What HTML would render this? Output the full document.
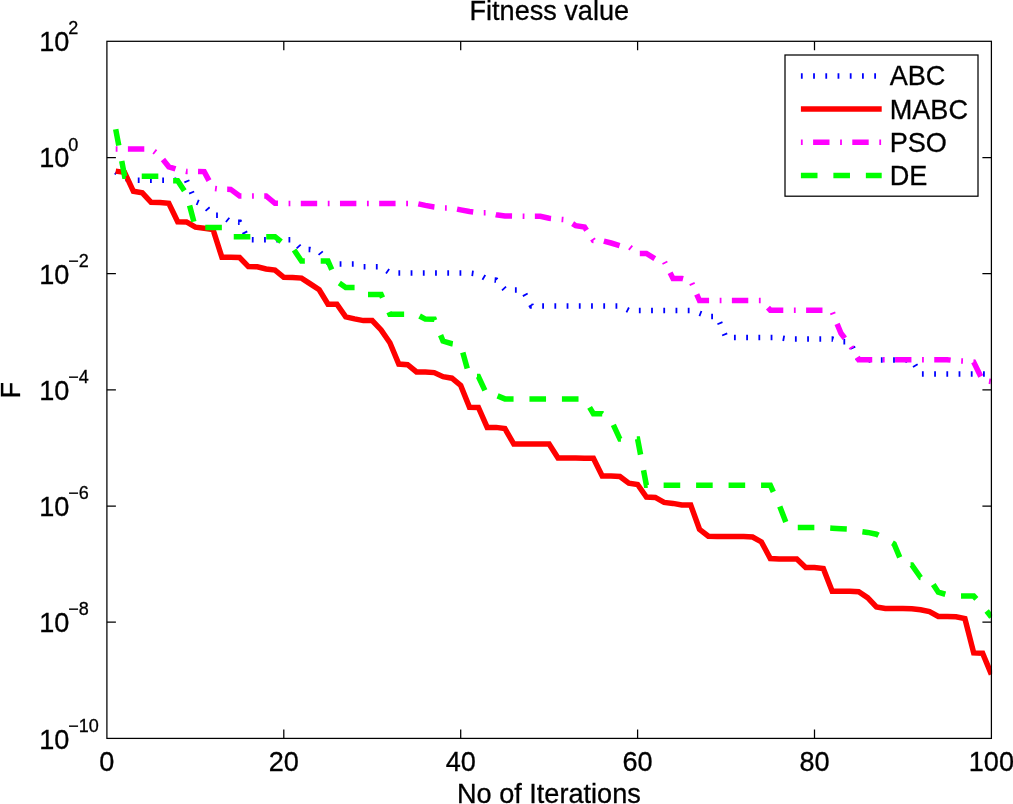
<!DOCTYPE html>
<html lang="en"><head><meta charset="utf-8"><title>Fitness value</title>
<style>html,body{margin:0;padding:0;background:#fff}body{width:1013px;height:804px;overflow:hidden}svg{display:block}</style></head>
<body>
<svg width="1013" height="804" viewBox="0 0 1013 804">
<rect width="1013" height="804" fill="#fff"/>
<defs><clipPath id="c"><rect x="106.4" y="41.3" width="885.7" height="697.1"/></clipPath></defs>
<g clip-path="url(#c)" fill="none" stroke-width="5.5" stroke-linejoin="miter">
<polyline points="115.7,171.7 124.6,178.2 133.4,180.3 142.3,180.3 151.1,180.3 160.0,180.3 168.8,180.3 177.7,180.3 186.5,180.3 195.4,201.5 204.2,205.2 213.0,215.3 221.9,215.3 230.7,222.3 239.6,222.3 248.4,239.7 257.3,239.8 266.1,239.8 275.0,239.8 283.8,239.8 292.6,239.8 301.5,249.6 310.3,249.6 319.2,251.3 328.0,262.3 336.9,264.0 345.7,264.0 354.6,264.0 363.4,266.8 372.2,266.8 381.1,266.8 389.9,272.9 398.8,272.9 407.6,272.9 416.5,272.9 425.3,272.9 434.2,272.9 443.0,272.9 451.9,272.9 460.7,272.9 469.5,272.9 478.4,274.1 487.2,279.4 496.1,280.1 504.9,289.5 513.8,290.0 522.6,290.0 531.5,306.0 540.3,306.0 549.1,306.0 558.0,306.0 566.8,306.0 575.7,306.0 584.5,306.0 593.4,306.0 602.2,306.0 611.1,306.0 619.9,306.0 628.8,310.5 637.6,310.6 646.4,310.6 655.3,310.6 664.1,310.6 673.0,310.6 681.8,310.6 690.7,310.6 699.5,313.2 708.4,316.6 717.2,316.6 726.0,337.5 734.9,337.5 743.7,337.5 752.6,337.5 761.4,337.5 770.3,337.5 779.1,337.5 788.0,339.1 796.8,339.1 805.7,339.1 814.5,339.1 823.3,339.1 832.2,339.1 841.0,341.8 849.9,341.8 858.7,360.0 867.6,360.0 876.4,360.0 885.3,360.0 894.1,360.0 902.9,360.0 911.8,360.0 920.6,374.1 929.5,374.1 938.3,374.1 947.2,374.1 956.0,374.1 964.9,374.1 973.7,374.1 982.6,374.1 991.4,374.1" stroke="#00f" stroke-dasharray="1.8 10.42"/>
<polyline points="115.7,171.1 124.6,172.4 133.4,191.3 142.3,192.8 151.1,202.3 160.0,202.6 168.8,203.3 177.7,221.7 186.5,221.9 195.4,227.2 204.2,228.3 213.0,229.5 221.9,257.3 230.7,257.3 239.6,257.5 248.4,266.6 257.3,266.8 266.1,269.0 275.0,270.1 283.8,277.3 292.6,277.6 301.5,278.1 310.3,283.9 319.2,289.7 328.0,304.2 336.9,304.3 345.7,316.9 354.6,318.9 363.4,320.6 372.2,320.6 381.1,329.9 389.9,342.8 398.8,364.1 407.6,364.7 416.5,372.0 425.3,372.0 434.2,372.6 443.0,376.7 451.9,378.2 460.7,385.4 469.5,407.3 478.4,407.5 487.2,427.4 496.1,427.4 504.9,428.6 513.8,444.1 522.6,444.1 531.5,444.1 540.3,444.1 549.1,444.1 558.0,458.1 566.8,458.1 575.7,458.1 584.5,458.2 593.4,458.3 602.2,475.9 611.1,475.9 619.9,476.5 628.8,483.1 637.6,484.5 646.4,497.0 655.3,497.4 664.1,502.4 673.0,503.4 681.8,505.0 690.7,505.0 699.5,529.3 708.4,536.2 717.2,536.6 726.0,536.6 734.9,536.6 743.7,536.6 752.6,537.0 761.4,541.9 770.3,558.5 779.1,558.9 788.0,558.9 796.8,559.1 805.7,567.4 814.5,567.4 823.3,568.5 832.2,591.3 841.0,591.3 849.9,591.3 858.7,591.7 867.6,597.7 876.4,607.0 885.3,608.5 894.1,608.5 902.9,608.6 911.8,608.8 920.6,609.7 929.5,611.6 938.3,616.5 947.2,616.6 956.0,616.8 964.9,618.5 973.7,652.9 982.6,653.2 991.4,674.4" stroke="#f00"/>
<polyline points="115.7,148.9 124.6,148.9 133.4,148.9 142.3,148.9 151.1,148.9 160.0,155.8 168.8,166.8 177.7,169.7 186.5,171.4 195.4,171.4 204.2,171.6 213.0,188.2 221.9,189.3 230.7,189.4 239.6,195.9 248.4,195.9 257.3,195.9 266.1,195.9 275.0,203.3 283.8,203.5 292.6,203.5 301.5,203.5 310.3,203.5 319.2,203.5 328.0,203.5 336.9,203.5 345.7,203.5 354.6,203.5 363.4,203.5 372.2,203.5 381.1,203.5 389.9,203.5 398.8,203.5 407.6,203.5 416.5,203.5 425.3,205.4 434.2,207.0 443.0,208.0 451.9,208.1 460.7,209.9 469.5,211.5 478.4,212.7 487.2,212.7 496.1,214.7 504.9,215.9 513.8,216.0 522.6,216.2 531.5,216.3 540.3,216.3 549.1,218.2 558.0,219.1 566.8,219.8 575.7,225.7 584.5,227.0 593.4,240.4 602.2,240.6 611.1,243.0 619.9,245.7 628.8,246.3 637.6,253.5 646.4,253.5 655.3,258.9 664.1,261.2 673.0,278.4 681.8,278.4 690.7,280.7 699.5,300.6 708.4,300.6 717.2,300.6 726.0,300.6 734.9,300.6 743.7,300.6 752.6,300.6 761.4,300.6 770.3,310.2 779.1,310.2 788.0,310.2 796.8,310.2 805.7,310.2 814.5,310.2 823.3,310.2 832.2,311.9 841.0,333.3 849.9,344.8 858.7,359.7 867.6,359.7 876.4,359.7 885.3,359.7 894.1,359.7 902.9,359.7 911.8,359.7 920.6,359.7 929.5,359.7 938.3,359.7 947.2,359.7 956.0,360.8 964.9,361.2 973.7,362.1 982.6,380.2 991.4,381.5" stroke="#f0f" stroke-dasharray="1.8 10.4 16.4 10.6"/>
<polyline points="115.7,129.2 124.6,176.2 133.4,176.2 142.3,176.2 151.1,176.2 160.0,176.2 168.8,180.7 177.7,180.7 186.5,194.0 195.4,227.4 204.2,227.4 213.0,227.4 221.9,227.4 230.7,236.7 239.6,236.7 248.4,236.7 257.3,236.7 266.1,236.7 275.0,236.7 283.8,243.8 292.6,247.8 301.5,261.1 310.3,261.0 319.2,261.0 328.0,261.0 336.9,281.4 345.7,287.4 354.6,287.4 363.4,294.4 372.2,294.4 381.1,294.4 389.9,314.3 398.8,314.3 407.6,314.3 416.5,314.3 425.3,319.1 434.2,319.3 443.0,341.1 451.9,343.7 460.7,344.9 469.5,376.6 478.4,376.6 487.2,395.2 496.1,395.3 504.9,398.9 513.8,398.9 522.6,398.9 531.5,398.9 540.3,398.9 549.1,398.9 558.0,398.9 566.8,398.9 575.7,398.9 584.5,398.9 593.4,413.7 602.2,413.7 611.1,420.1 619.9,439.1 628.8,439.1 637.6,439.1 646.4,485.2 655.3,485.2 664.1,485.2 673.0,485.2 681.8,485.2 690.7,485.2 699.5,485.2 708.4,485.2 717.2,485.2 726.0,485.2 734.9,485.2 743.7,485.2 752.6,485.2 761.4,485.2 770.3,485.2 779.1,504.7 788.0,527.6 796.8,527.6 805.7,527.6 814.5,527.6 823.3,527.6 832.2,528.2 841.0,528.7 849.9,529.1 858.7,531.2 867.6,532.4 876.4,534.2 885.3,538.7 894.1,543.9 902.9,565.0 911.8,565.0 920.6,577.5 929.5,578.5 938.3,592.2 947.2,594.8 956.0,596.1 964.9,596.1 973.7,596.1 982.6,605.7 991.4,617.2" stroke="#0f0" stroke-dasharray="16.6 15.88"/>
</g>
<g stroke="#000" stroke-width="1.25" fill="none">
<rect x="106.9" y="41.3" width="884.5" height="697.1"/>
<path d="M283.8 738.4v-9.0M283.8 41.3v9.0"/>
<path d="M460.7 738.4v-9.0M460.7 41.3v9.0"/>
<path d="M637.6 738.4v-9.0M637.6 41.3v9.0"/>
<path d="M814.5 738.4v-9.0M814.5 41.3v9.0"/>
<path d="M106.9 157.5h9.0M991.4 157.5h-9.0"/>
<path d="M106.9 273.7h9.0M991.4 273.7h-9.0"/>
<path d="M106.9 389.9h9.0M991.4 389.9h-9.0"/>
<path d="M106.9 506.0h9.0M991.4 506.0h-9.0"/>
<path d="M106.9 622.2h9.0M991.4 622.2h-9.0"/>
</g>
<g font-family="'Liberation Sans', Arial, sans-serif" fill="#000" stroke="#000" stroke-width="0.3" font-size="27.1">
<text x="549.3" y="20" text-anchor="middle">Fitness value</text>
<text x="548.9" y="803.2" text-anchor="middle">No of Iterations</text>
<text transform="translate(19.8 390.3) rotate(-90)" text-anchor="middle">F</text>
<text x="106.9" y="771" text-anchor="middle">0</text>
<text x="283.8" y="771" text-anchor="middle">20</text>
<text x="460.7" y="771" text-anchor="middle">40</text>
<text x="637.6" y="771" text-anchor="middle">60</text>
<text x="814.5" y="771" text-anchor="middle">80</text>
<text x="991.4" y="771" text-anchor="middle">100</text>
<text x="39.2" y="51.0">10<tspan font-size="18" dx="-1.2" dy="-16.6">2</tspan></text>
<text x="39.2" y="167.3">10<tspan font-size="18" dx="-1.2" dy="-16.7">0</tspan></text>
<text x="39.2" y="283.6">10<tspan font-size="18" dx="-1.2" dy="-16.8">−2</tspan></text>
<text x="39.2" y="399.9">10<tspan font-size="18" dx="-1.2" dy="-16.9">−4</tspan></text>
<text x="39.2" y="516.1">10<tspan font-size="18" dx="-1.2" dy="-17.0">−6</tspan></text>
<text x="39.2" y="632.4">10<tspan font-size="18" dx="-1.2" dy="-17.1">−8</tspan></text>
<text x="39.2" y="748.7">10<tspan font-size="18" dx="-1.2" dy="-17.2">−10</tspan></text>
</g>
<rect x="785" y="55" width="193" height="141.2" fill="#fff" stroke="#000" stroke-width="1.25"/>
<g fill="none" stroke-width="5.5">
<path d="M800.9 75.9H881.7" stroke="#00f" stroke-dasharray="1.8 10.42"/>
<path d="M800.9 108.9H881.7" stroke="#f00"/>
<path d="M800.9 142.2H881.7" stroke="#f0f" stroke-dasharray="1.8 10.4 16.4 10.6"/>
<path d="M800.9 175.6H881.7" stroke="#0f0" stroke-dasharray="16.6 15.88"/>
</g>
<g font-family="'Liberation Sans', Arial, sans-serif" fill="#000" stroke="#000" stroke-width="0.3" font-size="27.1">
<text x="889.7" y="85.3">ABC</text>
<text x="889.7" y="118.7">MABC</text>
<text x="889.7" y="151.9">PSO</text>
<text x="889.7" y="185.4">DE</text>
</g>
</svg>
</body></html>
